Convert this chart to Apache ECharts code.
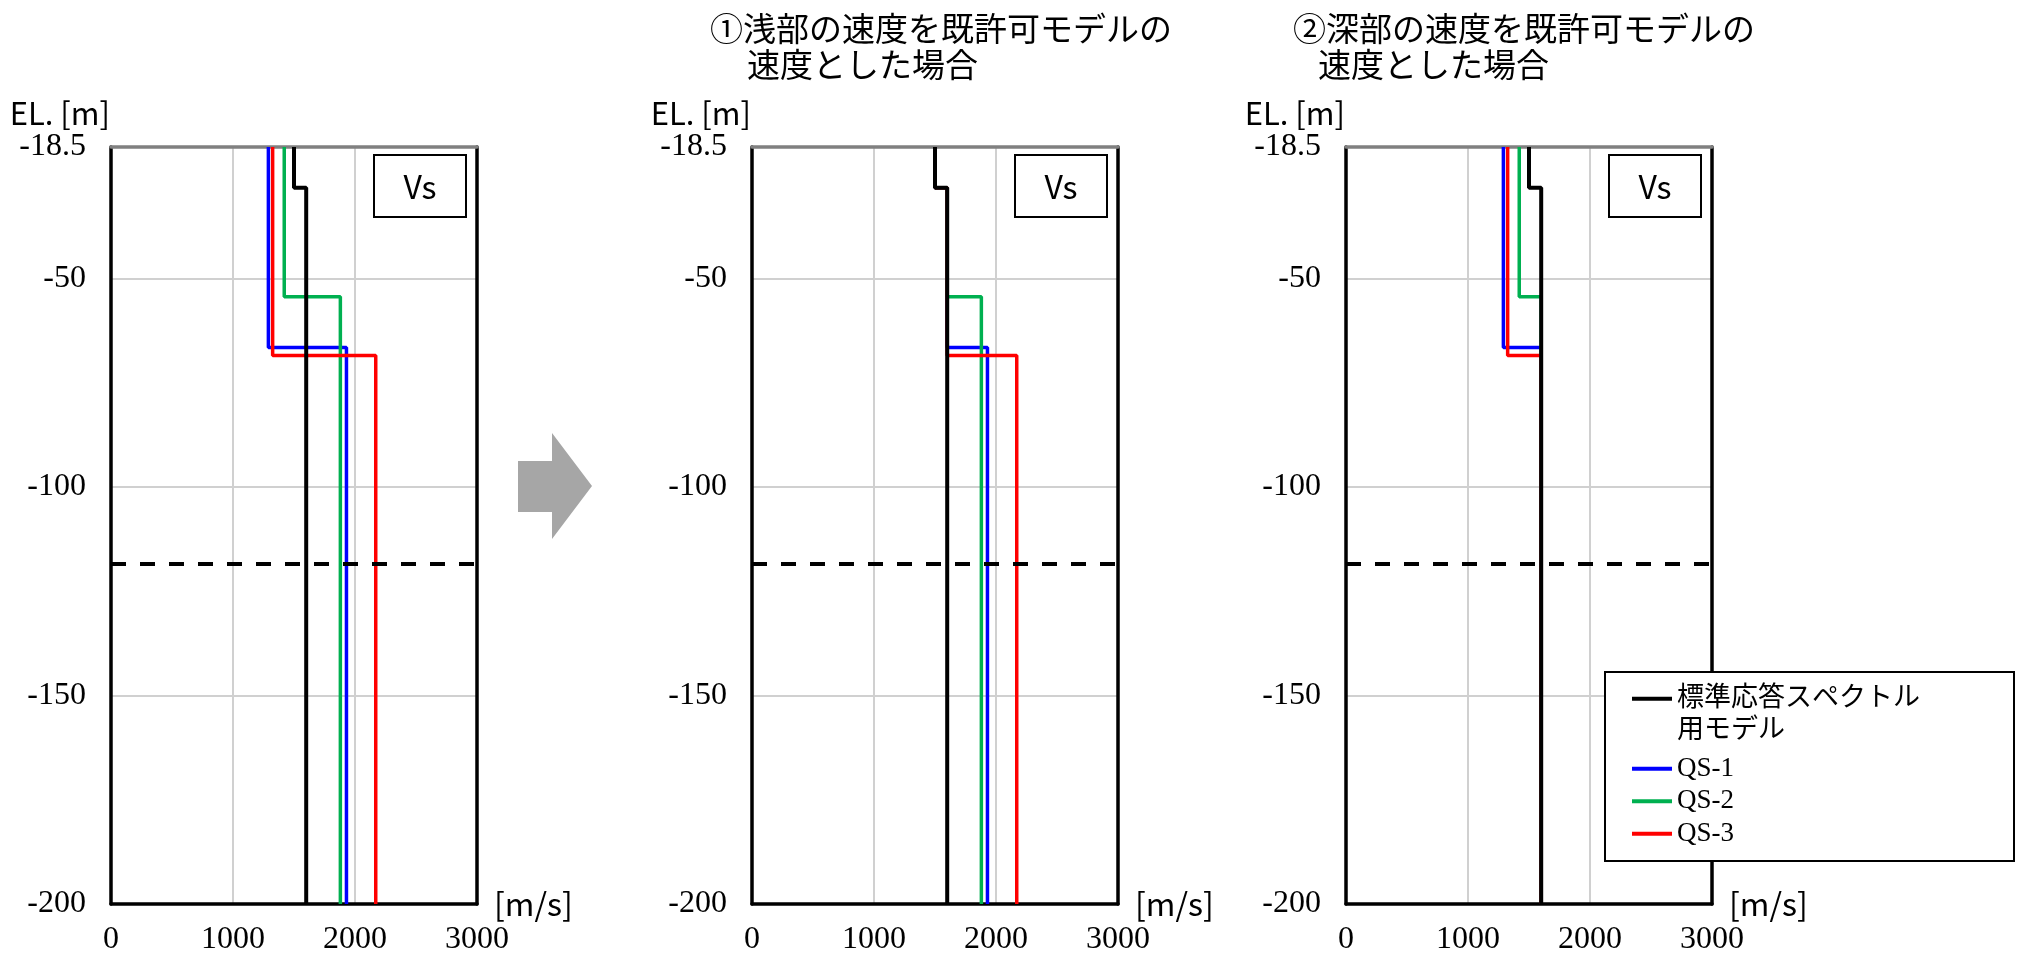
<!DOCTYPE html>
<html><head><meta charset="utf-8">
<script src="https://cdn.jsdelivr.net/npm/echarts@6/dist/echarts.min.js"></script>
<style>html,body{margin:0;padding:0;background:#fff}#c{width:2024px;height:957px}</style>
</head><body><div id="c"></div>
<script>
// ---------- data ----------
const EL_TOP = -18.5;
const EL_BOTTOM = -200;
const EL_BASE = -118.5;            // dashed reference level
const Y_INTERVAL = 50;
const X_MIN = 0, X_MAX = 3000, X_INTERVAL = 1000;

const SERIES_NAMES = ['標準応答スペクトル用モデル', 'QS-1', 'QS-2', 'QS-3'];
const STD_LEGEND_LINES = ['標準応答スペクトル', '用モデル'];
const PANEL_TITLE_1 = ['①浅部の速度を既許可モデルの', '速度とした場合'];
const PANEL_TITLE_2 = ['②深部の速度を既許可モデルの', '速度とした場合'];
const BOX_LABEL = 'Vs';

// standard (permitted) model: layer boundaries [m] and Vs [m/s]
const STD_DEPTH = [-18.5, -28.3, -200];
const STD_VS    = [1500, 1600];

// panel 1 : original QS models
const P1_QS1_DEPTH = [-18.5, -66.6, -200];  const P1_QS1_VS = [1290, 1930];
const P1_QS2_DEPTH = [-18.5, -54.4, -200];  const P1_QS2_VS = [1420, 1880];
const P1_QS3_DEPTH = [-18.5, -68.5, -200];  const P1_QS3_VS = [1325, 2170];

// panel 2 : shallow part replaced by permitted model
const P2_QS1_DEPTH = [-18.5, -28.3, -66.6, -200];  const P2_QS1_VS = [1500, 1600, 1930];
const P2_QS2_DEPTH = [-18.5, -28.3, -54.4, -200];  const P2_QS2_VS = [1500, 1600, 1880];
const P2_QS3_DEPTH = [-18.5, -28.3, -68.5, -200];  const P2_QS3_VS = [1500, 1600, 2170];

// panel 3 : deep part replaced by permitted model
const P3_QS1_DEPTH = [-18.5, -66.6, -200];  const P3_QS1_VS = [1290, 1600];
const P3_QS2_DEPTH = [-18.5, -54.4, -200];  const P3_QS2_VS = [1420, 1600];
const P3_QS3_DEPTH = [-18.5, -68.5, -200];  const P3_QS3_VS = [1325, 1600];

// ---------- helpers ----------
function stepProfile(depths, vs) {
  const pts = [];
  for (let i = 0; i < vs.length; i++) {
    pts.push([vs[i], depths[i]]);
    pts.push([vs[i], depths[i + 1]]);
  }
  return pts;
}

const COLORS = ['#000000', '#0000ff', '#00b050', '#ff0000'];
const SERIF = '"Liberation Serif", "Noto Sans CJK JP"';
const GOTHIC = '"Noto Sans CJK JP", "Noto Sans"';

const PANELS = [
  [[STD_DEPTH, STD_VS], [P1_QS1_DEPTH, P1_QS1_VS], [P1_QS2_DEPTH, P1_QS2_VS], [P1_QS3_DEPTH, P1_QS3_VS]],
  [[STD_DEPTH, STD_VS], [P2_QS1_DEPTH, P2_QS1_VS], [P2_QS2_DEPTH, P2_QS2_VS], [P2_QS3_DEPTH, P2_QS3_VS]],
  [[STD_DEPTH, STD_VS], [P3_QS1_DEPTH, P3_QS1_VS], [P3_QS2_DEPTH, P3_QS2_VS], [P3_QS3_DEPTH, P3_QS3_VS]]
];

const GRID_LEFT = [111, 752, 1346];
const GRID_TOP = 147, GRID_W = 366, GRID_H = 757;

const grids = [], xAxes = [], yAxes = [], series = [], graphics = [];

PANELS.forEach((panel, p) => {
  grids.push({ left: GRID_LEFT[p], top: GRID_TOP, width: GRID_W, height: GRID_H, outerBoundsMode: 'none' });
  xAxes.push({
    gridIndex: p, type: 'value', min: X_MIN, max: X_MAX, interval: X_INTERVAL, position: 'bottom',
    axisLine: { show: true, onZero: false, lineStyle: { color: '#000', width: 3.5 } },
    axisTick: { show: false },
    axisLabel: { margin: 20, fontSize: 32, fontFamily: SERIF, color: '#000', formatter: v => String(v) },
    splitLine: { show: true, lineStyle: { color: '#d0d0d0', width: 2 } },
    name: '[m/s]', nameLocation: 'end', nameGap: 17,
    nameTextStyle: { fontSize: 32, fontFamily: GOTHIC, color: '#000', padding: [0, 0, 8, 0] }
  });
  xAxes.push({
    gridIndex: p, type: 'value', min: X_MIN, max: X_MAX, position: 'top',
    axisLine: { show: true, onZero: false, lineStyle: { color: '#808080', width: 3.5 } },
    axisTick: { show: false }, axisLabel: { show: false }, splitLine: { show: false }
  });
  yAxes.push({
    gridIndex: p, type: 'value', min: EL_BOTTOM, max: EL_TOP, interval: Y_INTERVAL, position: 'left',
    axisLine: { show: true, onZero: false, lineStyle: { color: '#000', width: 3.5 } },
    axisTick: { show: false },
    axisLabel: { margin: 25, fontSize: 32, fontFamily: SERIF, color: '#000' },
    splitLine: { show: true, lineStyle: { color: '#d0d0d0', width: 2 } },
    name: 'EL. [m]', nameLocation: 'end', nameGap: 18,
    nameTextStyle: { fontSize: 31, fontFamily: GOTHIC, color: '#000', align: 'right', padding: [0, 1, 0, 0] }
  });
  yAxes.push({
    gridIndex: p, type: 'value', min: EL_BOTTOM, max: EL_TOP, position: 'right',
    axisLine: { show: true, onZero: false, lineStyle: { color: '#000', width: 3.5 } },
    axisTick: { show: false }, axisLabel: { show: false }, splitLine: { show: false }
  });

  // colored QS series first, black standard model on top
  [1, 2, 3, 0].forEach(k => {
    const [d, v] = panel[k];
    const s = {
      name: SERIES_NAMES[k], type: 'line', xAxisIndex: 2 * p, yAxisIndex: 2 * p,
      data: stepProfile(d, v), symbol: 'none', showSymbol: false, silent: true,
      lineStyle: { color: COLORS[k], width: k === 0 ? 4 : 3.5 },
      itemStyle: { color: COLORS[k] },
      z: k === 0 ? 4 : 3
    };
    if (k === 0) {
      s.markLine = {
        silent: true, symbol: ['none', 'none'], label: { show: false },
        lineStyle: { color: '#000', width: 4, type: [15, 14] },
        emphasis: { disabled: true },
        data: [{ yAxis: EL_BASE }]
      };
    }
    series.push(s);
  });

  // "Vs" box
  const bx = GRID_LEFT[p] + 263;
  graphics.push({
    type: 'rect', shape: { x: bx, y: 155, width: 92, height: 62 },
    style: { fill: '#fff', stroke: '#000', lineWidth: 2 }, z: 5, silent: true
  });
  graphics.push({
    type: 'text', x: bx + 46, y: 187, z: 6, silent: true,
    style: { text: BOX_LABEL, font: '32px ' + GOTHIC, fill: '#000', align: 'center', verticalAlign: 'middle' }
  });
});

// panel titles
[[PANEL_TITLE_1, 710, 747], [PANEL_TITLE_2, 1293, 1318]].forEach(([t, x1, x2]) => {
  graphics.push({ type: 'text', x: x1, y: 28, silent: true,
    style: { text: t[0], font: '33px ' + GOTHIC, fill: '#000', verticalAlign: 'middle' } });
  graphics.push({ type: 'text', x: x2, y: 64, silent: true,
    style: { text: t[1], font: '33px ' + GOTHIC, fill: '#000', verticalAlign: 'middle' } });
});

// arrow
graphics.push({
  type: 'polygon', silent: true,
  shape: { points: [[518, 461], [552, 461], [552, 433], [592, 486], [552, 539], [552, 512], [518, 512]] },
  style: { fill: '#a6a6a6' }
});

// legend frame
graphics.push({
  type: 'rect', shape: { x: 1605, y: 672, width: 409, height: 189 },
  style: { fill: '#fff', stroke: '#000', lineWidth: 2 }, z: 8, silent: true
});

const option = {
  animation: false,
  backgroundColor: '#fff',
  grid: grids, xAxis: xAxes, yAxis: yAxes, series: series,
  graphic: graphics,
  legend: {
    data: [{ name: SERIES_NAMES[0], textStyle: { padding: [5, 0, 5, 0] } }, SERIES_NAMES[1], SERIES_NAMES[2], SERIES_NAMES[3]],
    orient: 'vertical', left: 1632, top: 645, padding: 0, itemGap: 0,
    icon: 'rect', itemWidth: 40, itemHeight: 4, z: 10, selectedMode: false,
    textStyle: { fontSize: 27, fontFamily: SERIF, color: '#000', lineHeight: 32.5 },
    // leading empty line keeps the icon level with the first text line
    formatter: n => n === SERIES_NAMES[0] ? '\n' + STD_LEGEND_LINES.join('\n') : n
  }
};
echarts.init(document.getElementById('c'), null, { renderer: 'canvas' }).setOption(option);
</script></body></html>
